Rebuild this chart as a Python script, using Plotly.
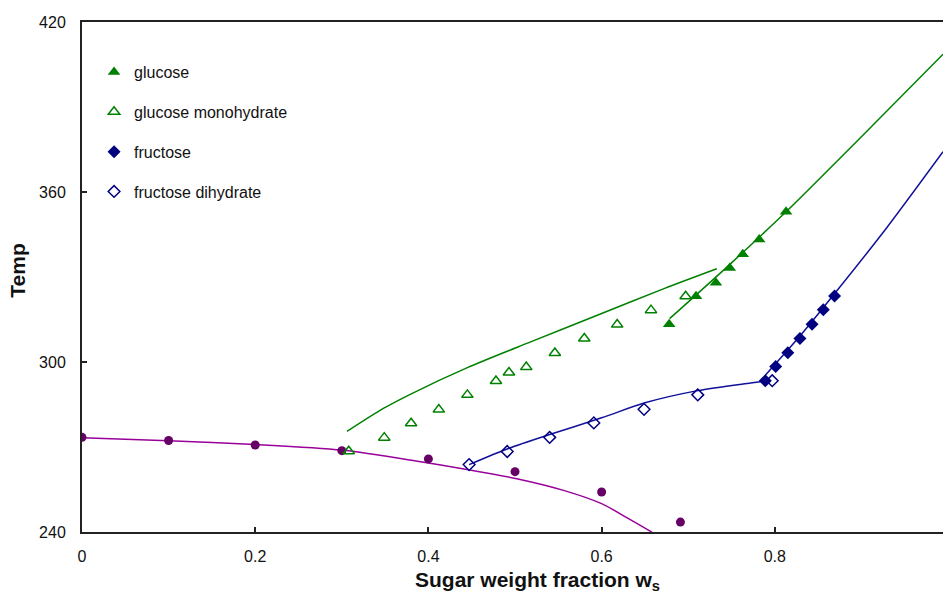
import plotly.graph_objects as go

# Ice / freezing curve (water-rich side)
ice_w = [0.0, 0.1, 0.2, 0.3, 0.4, 0.5, 0.6, 0.691]
ice_T = [273.4, 272.3, 270.7, 268.7, 265.8, 261.3, 254.1, 243.5]
ice_model_w = [0.0, 0.1, 0.2, 0.3, 0.391, 0.446, 0.502, 0.556, 0.600, 0.629, 0.656, 0.67]
ice_model_T = [273.3, 272.2, 270.9, 268.9, 264.8, 262.0, 258.8, 254.7, 250.0, 245.1, 240.3, 237.5]

# Glucose (anhydrous) solubility
glc_w = [0.678, 0.709, 0.732, 0.748, 0.763, 0.782, 0.813]
glc_T = [313.3, 323.2, 328.0, 333.2, 338.0, 343.2, 353.0]
glc_model_w = [0.6785, 0.75, 0.813, 0.90, 0.9942]
glc_model_T = [315.3, 335.0, 353.0, 379.5, 408.6]

# Glucose monohydrate solubility
glcm_w = [0.308, 0.349, 0.380, 0.412, 0.445, 0.478, 0.493, 0.513, 0.546, 0.580, 0.618, 0.657, 0.697]
glcm_T = [268.5, 273.3, 278.4, 283.2, 288.4, 293.3, 296.3, 298.2, 303.2, 308.3, 313.2, 318.3, 323.2]
glcm_model_w = [0.306, 0.348, 0.379, 0.445, 0.518, 0.595, 0.672, 0.733]
glcm_model_T = [275.5, 283.6, 288.6, 298.0, 307.1, 316.5, 325.9, 332.9]

# Fructose (anhydrous) solubility
fru_w = [0.789, 0.801, 0.815, 0.829, 0.843, 0.856, 0.869]
fru_T = [293.4, 298.4, 303.3, 308.3, 313.3, 318.4, 323.3]
fru_model_w = [0.789, 0.83, 0.87, 0.929, 0.9942]
fru_model_T = [295.3, 309.5, 324.5, 347.3, 374.2]

# Fructose dihydrate solubility
frud_w = [0.447, 0.491, 0.540, 0.591, 0.649, 0.711, 0.797]
frud_T = [263.8, 268.4, 273.4, 278.5, 283.3, 288.4, 293.4]
frud_model_w = [0.447, 0.491, 0.540, 0.600, 0.650, 0.711, 0.772, 0.789]
frud_model_T = [263.8, 269.3, 274.4, 280.3, 285.6, 289.9, 292.6, 293.3]

x_ticks = [0, 0.2, 0.4, 0.6, 0.8]
x_ticklabels = ["0", "0.2", "0.4", "0.6", "0.8"]
y_ticks = [240, 300, 360, 420]

GREEN = "#008000"
NAVY = "#000080"
NAVY_LINE = "#10109a"
PURPLE_DOT = "#660066"
PURPLE_LINE = "#990099"


def model_line(x, y, color):
    return go.Scatter(x=x, y=y, mode="lines",
                      line=dict(color=color, width=1.5, shape="spline", smoothing=0.8),
                      showlegend=False, hoverinfo="skip")


fig = go.Figure()

# model curves
fig.add_trace(model_line(ice_model_w, ice_model_T, PURPLE_LINE))
fig.add_trace(model_line(glcm_model_w, glcm_model_T, GREEN))
fig.add_trace(model_line(glc_model_w, glc_model_T, GREEN))
fig.add_trace(model_line(frud_model_w, frud_model_T, NAVY_LINE))
fig.add_trace(model_line(fru_model_w, fru_model_T, NAVY_LINE))

# experimental points
fig.add_trace(go.Scatter(x=ice_w, y=ice_T, mode="markers", name="ice",
                         marker=dict(symbol="circle", size=9, color=PURPLE_DOT),
                         showlegend=False))
fig.add_trace(go.Scatter(x=glc_w, y=glc_T, mode="markers", name="glucose", legendgroup="a",
                         marker=dict(symbol="triangle-up", size=11, color=GREEN)))
fig.add_trace(go.Scatter(x=glcm_w, y=glcm_T, mode="markers", name="glucose monohydrate", legendgroup="b",
                         marker=dict(symbol="triangle-up-open", size=10, color=GREEN,
                                     line=dict(width=1.5, color=GREEN))))
fig.add_trace(go.Scatter(x=fru_w, y=fru_T, mode="markers", name="fructose", legendgroup="c",
                         marker=dict(symbol="diamond", size=10, color=NAVY)))
fig.add_trace(go.Scatter(x=frud_w, y=frud_T, mode="markers", name="fructose dihydrate", legendgroup="d",
                         marker=dict(symbol="diamond-open", size=9, color=NAVY,
                                     line=dict(width=1.5, color=NAVY))))

AX_FONT = dict(family="Liberation Sans, Arial, sans-serif", size=16, color="#111")

fig.update_layout(
    width=943, height=594,
    margin=dict(l=82, r=0, t=22, b=62),
    paper_bgcolor="white", plot_bgcolor="white",
    font=AX_FONT,
    showlegend=True,
    legend=dict(x=0.014, y=0.935, xanchor="left", yanchor="top",
                bgcolor="rgba(0,0,0,0)", tracegroupgap=16,
                font=dict(family="Liberation Sans, Arial, sans-serif", size=16, color="#111")),
    xaxis=dict(range=[0, 0.9942], tickvals=x_ticks, ticktext=x_ticklabels,
               ticks="inside", ticklen=5, tickwidth=1.5, tickcolor="#222",
               showline=True, linecolor="#222", linewidth=2, mirror=True,
               showgrid=False, zeroline=False, ticklabelstandoff=9,
               tickfont=AX_FONT),
    yaxis=dict(range=[240, 420], tickvals=y_ticks,
               ticks="inside", ticklen=5, tickwidth=1.5, tickcolor="#222",
               showline=True, linecolor="#222", linewidth=2,
               showgrid=False, zeroline=False, ticklabelstandoff=11,
               tickfont=AX_FONT),
    annotations=[
        dict(text="<b>Sugar weight fraction w<sub>s</sub></b>", xref="paper", yref="paper",
             x=0.5296, y=-0.096, xanchor="center", yanchor="middle", showarrow=False,
             font=dict(family="Liberation Sans, Arial, sans-serif", size=21, color="#111")),
        dict(text="<b>Temp</b>", xref="paper", yref="paper", textangle=-90,
             x=-0.0751, y=0.513, xanchor="center", yanchor="middle", showarrow=False,
             font=dict(family="Liberation Sans, Arial, sans-serif", size=21, color="#111")),
    ],
)

fig.write_html("out.html")
